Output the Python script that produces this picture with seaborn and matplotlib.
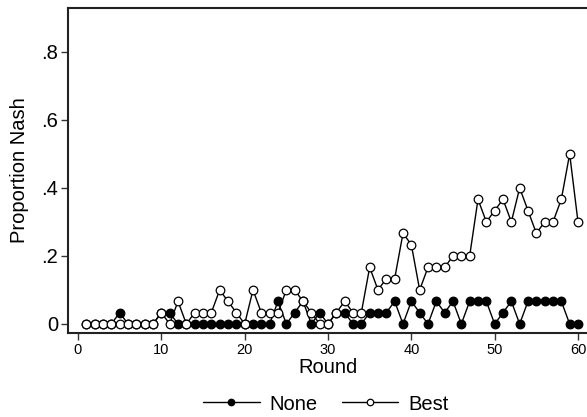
import numpy as np
import pandas as pd
import matplotlib
matplotlib.use("Agg")
import matplotlib.pyplot as plt
import seaborn as sns

rounds = list(range(1, 61))
none_vals = [0, 0, 0, 0, 0.0333, 0, 0, 0, 0, 0.0333,
             0.0333, 0, 0, 0, 0, 0, 0, 0, 0, 0,
             0, 0, 0, 0.0667, 0, 0.0333, 0.0667, 0, 0.0333, 0,
             0.0333, 0.0333, 0, 0, 0.0333, 0.0333, 0.0333, 0.0667, 0, 0.0667,
             0.0333, 0, 0.0667, 0.0333, 0.0667, 0, 0.0667, 0.0667, 0.0667, 0,
             0.0333, 0.0667, 0, 0.0667, 0.0667, 0.0667, 0.0667, 0.0667, 0, 0]
best_vals = [0, 0, 0, 0, 0, 0, 0, 0, 0, 0.0333,
             0, 0.0667, 0, 0.0333, 0.0333, 0.0333, 0.1, 0.0667, 0.0333, 0,
             0.1, 0.0333, 0.0333, 0.0333, 0.1, 0.1, 0.0667, 0.0333, 0, 0,
             0.0333, 0.0667, 0.0333, 0.0333, 0.1667, 0.1, 0.1333, 0.1333, 0.2667, 0.2333,
             0.1, 0.1667, 0.1667, 0.1667, 0.2, 0.2, 0.2, 0.3667, 0.3, 0.3333,
             0.3667, 0.3, 0.4, 0.3333, 0.2667, 0.3, 0.3, 0.3667, 0.5, 0.3]
series_names = ["None", "Best"]
ytick_vals = [0, 0.2, 0.4, 0.6, 0.8]
ytick_labels = ["0", ".2", ".4", ".6", ".8"]
xtick_vals = [0, 10, 20, 30, 40, 50, 60]

sns.set_style("ticks")
plt.rcParams['font.family'] = ['Liberation Sans', 'DejaVu Sans']
plt.rcParams['text.color'] = 'black'
plt.rcParams['axes.labelcolor'] = 'black'
plt.rcParams['xtick.color'] = 'black'
plt.rcParams['ytick.color'] = 'black'

df_none = pd.DataFrame({"Round": rounds, "val": none_vals})
df_best = pd.DataFrame({"Round": rounds, "val": best_vals})

fig = plt.figure(figsize=(5.87, 4.17), dpi=100)
ax = fig.add_axes([68/587, 1-333/417, 520/587, (333-8)/417])

sns.lineplot(data=df_none, x="Round", y="val", ax=ax, color="black", lw=1.0,
             marker="o", markersize=6.2, markerfacecolor="black",
             markeredgecolor="black", markeredgewidth=0.9, label=series_names[0])
sns.lineplot(data=df_best, x="Round", y="val", ax=ax, color="black", lw=1.0,
             marker="o", markersize=6.2, markerfacecolor="white",
             markeredgecolor="black", markeredgewidth=0.9, label=series_names[1])

ax.set_xlim(-1.2, 61.2)
ax.set_ylim(-0.0265, 0.929)
ax.set_yticks(ytick_vals)
ax.set_yticklabels(ytick_labels, fontsize=14.5)
ax.set_xticks(xtick_vals)
ax.set_xticklabels([str(v) for v in xtick_vals], fontsize=10.5)
ax.tick_params(axis='both', direction='out', length=5, width=1, color='#333333')
ax.tick_params(axis='y', pad=2)
ax.tick_params(axis='x', pad=2)
ax.set_xlabel("Round", fontsize=14.5, labelpad=1)
ax.set_ylabel("Proportion Nash", fontsize=14.5, labelpad=9)
for s in ax.spines.values():
    s.set_linewidth(1.5)
    s.set_color('#222222')

handles, labels = ax.get_legend_handles_labels()
ax.get_legend().remove()
fig.legend(handles, labels, loc='center', bbox_to_anchor=(326/587, 1-404/417),
           ncol=2, frameon=False, fontsize=14.5, handlelength=2.8, markerscale=0.75,
           columnspacing=1.2, handletextpad=0.5)

fig.savefig("out.png", dpi=100)
